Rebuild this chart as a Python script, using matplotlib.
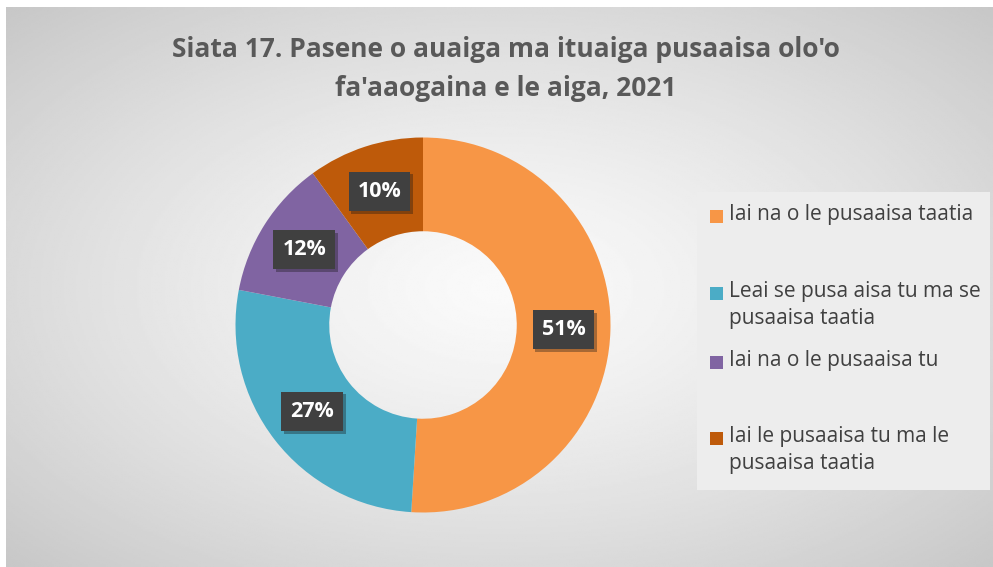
import numpy as np
import matplotlib.pyplot as plt
from matplotlib.patches import Rectangle
import matplotlib.patheffects as pe

# data
labels = ['Iai na o le pusaaisa taatia',
          'Leai se pusa aisa tu ma se\npusaaisa taatia',
          'Iai na o le pusaaisa tu',
          'Iai le pusaaisa tu ma le\npusaaisa taatia']
values = [51, 27, 12, 10]
colors = ['#F79646', '#4BACC6', '#8064A2', '#BE5A0A']
title = "Siata 17. Pasene o auaiga ma ituaiga pusaaisa olo'o\nfa'aaogaina e le aiga, 2021"

plt.rcParams['font.family'] = ['Open Sans', 'DejaVu Sans']

W, H = 993, 567
fig = plt.figure(figsize=(W / 100, H / 100), dpi=100)
fig.patch.set_facecolor('white')

# radial gradient background
bg = fig.add_axes([6 / W, 0, 1 - 6 / W, 1 - 7 / H])
yy, xx = np.mgrid[0:300, 0:500]
cx, cy = 250, 150
r = np.sqrt(((xx - cx) / 250) ** 2 + ((yy - cy) / 150) ** 2) / np.sqrt(2)
shade = 0.98 - 0.2 * r ** 1.3
bg.imshow(shade, cmap='gray', vmin=0, vmax=1, aspect='auto', extent=[0, 1, 0, 1])
bg.set_axis_off()

# legend box
leg_ax = fig.add_axes([0, 0, 1, 1])
leg_ax.set_xlim(0, W)
leg_ax.set_ylim(H, 0)
leg_ax.set_axis_off()
leg_ax.add_patch(Rectangle((697, 192), 293, 298, facecolor='#ededed', edgecolor='none'))
leg_y = [216, 293, 362, 438]
for lab, col, y in zip(labels, colors, leg_y):
    leg_ax.add_patch(Rectangle((710, y - 6), 13, 13, facecolor=col, edgecolor='none'))
    leg_ax.text(729, y - 12, lab, fontsize=15, color='#404040', va='top', ha='left',
                linespacing=1.36)

# donut
R = 187.5
cxp, cyp = 423, 325
half = 200
ax = fig.add_axes([(cxp - half) / W, (H - cyp - half) / H, 2 * half / W, 2 * half / H])
wedges, texts, autotexts = ax.pie(values, colors=colors, startangle=90, counterclock=False,
                                  radius=1, autopct='%d%%', pctdistance=0.75,
                                  wedgeprops=dict(width=0.5, edgecolor='none'),
                                  textprops=dict(color='white', fontsize=15.5, fontweight='bold'))
for t in autotexts:
    t.set_bbox(dict(boxstyle='square,pad=0.42', facecolor='#404040', edgecolor='none',
                    path_effects=[pe.SimplePatchShadow(offset=(2, -2), alpha=0.35), pe.Normal()]))
ax.set_xlim(-half / R, half / R)
ax.set_ylim(-half / R, half / R)
ax.set_aspect('equal')
ax.set_axis_off()

fig.text(506 / W, 1 - 69 / H, title, ha='center', va='center', fontsize=19,
         fontweight='bold', color='#595959', linespacing=1.55)

fig.savefig('out.png', dpi=100)
